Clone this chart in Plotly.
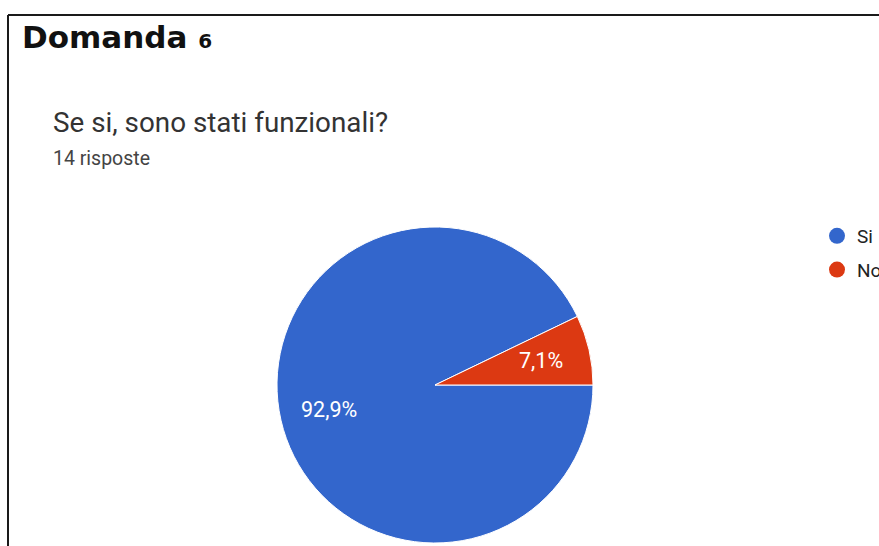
import math
import plotly.graph_objects as go

# Survey answers: "Se si, sono stati funzionali?" (14 responses)
categories = ["Si", "No"]
counts = [13, 1]
colors = ["#3366CC", "#DC3912"]

W, H = 879, 546
cx, cy, r = 435, 385, 158  # pie centre / radius in px
start_deg = 90             # first slice starts at 3 o'clock, drawn clockwise

fig = go.Figure()

fig.add_trace(go.Pie(
    labels=categories,
    values=counts,
    marker=dict(colors=colors, line=dict(color="white", width=1)),
    sort=False,
    direction="clockwise",
    rotation=start_deg,
    textinfo="none",
    hoverinfo="label+value+percent",
    showlegend=False,
    domain=dict(x=[(cx - r) / W, (cx + r) / W],
                y=[(H - cy - r) / H, (H - cy + r) / H]),
))

# percentage labels placed along each slice's middle angle
total = sum(counts)
label_annotations = []
acc = 0.0
for n in counts:
    frac = n / total
    mid = (acc + frac / 2) * 360.0       # degrees clockwise from 3 o'clock
    acc += frac
    rad = math.radians(mid)
    px = cx + 0.69 * r * math.cos(rad)
    py = cy + 0.69 * r * math.sin(rad)
    label_annotations.append(dict(
        text=f"{frac * 100:.1f}%".replace(".", ","),
        xref="paper", yref="paper", x=px / W, y=1 - py / H,
        xanchor="center", yanchor="middle", showarrow=False,
        font=dict(family="Roboto", size=21.5, color="white"),
    ))

# legend entries with round markers
for name, col in zip(categories, colors):
    fig.add_trace(go.Scatter(
        x=[None], y=[None], mode="markers", name=name, legendgroup=name,
        marker=dict(symbol="circle", size=18, color=col),
        showlegend=True,
    ))

fig.update_layout(
    width=W, height=H,
    margin=dict(l=0, r=0, t=0, b=0, autoexpand=False),
    paper_bgcolor="white",
    plot_bgcolor="white",
    xaxis=dict(visible=False),
    yaxis=dict(visible=False),
    legend=dict(
        x=817 / W, xanchor="left",
        y=1 - 217 / H, yanchor="top",
        font=dict(family="Roboto", size=19, color="#222222"),
        bgcolor="rgba(0,0,0,0)",
        traceorder="grouped", tracegroupgap=6,
        itemclick=False, itemdoubleclick=False,
    ),
    shapes=[
        dict(type="line", xref="paper", yref="paper",
             x0=8 / W, x1=1, y0=1 - 15 / H, y1=1 - 15 / H,
             line=dict(color="#1a1a1a", width=2)),
        dict(type="line", xref="paper", yref="paper",
             x0=8 / W, x1=8 / W, y0=1 - 15 / H, y1=0,
             line=dict(color="#1a1a1a", width=2)),
    ],
    annotations=[
        dict(text="Domanda <span style='font-size:20px'>6</span>",
             xref="paper", yref="paper", x=20 / W, y=1 - 37 / H,
             xanchor="left", yanchor="middle", showarrow=False,
             font=dict(family="DejaVu Sans", size=31, color="#111111", weight="bold")),
        dict(text="Se si, sono stati funzionali?",
             xref="paper", yref="paper", x=51 / W, y=1 - 123 / H,
             xanchor="left", yanchor="middle", showarrow=False,
             font=dict(family="Roboto", size=27.8, color="#333333")),
        dict(text="14 risposte",
             xref="paper", yref="paper", x=51 / W, y=1 - 158 / H,
             xanchor="left", yanchor="middle", showarrow=False,
             font=dict(family="Roboto", size=19.5, color="#444444")),
    ] + label_annotations,
)

fig.write_html("out.html")
